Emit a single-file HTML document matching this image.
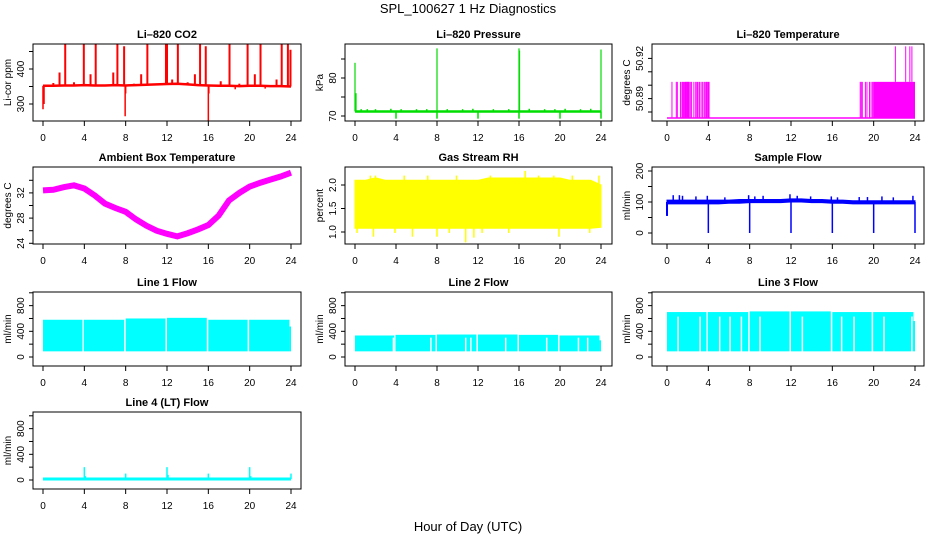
<!DOCTYPE html>
<html><head><meta charset="utf-8"><style>
html,body{margin:0;padding:0;background:#fff;}
svg{display:block;font-family:"Liberation Sans",sans-serif;}
</style></head><body>
<svg id="c" width="936" height="540" viewBox="0 0 936 540">
<text x="468" y="13" text-anchor="middle" font-size="13">SPL_100627  1 Hz Diagnostics</text>
<text x="468" y="531" text-anchor="middle" font-size="13">Hour of Day (UTC)</text>
</svg>
<script>
// ---------- data ----------
const xTicks=[0,4,8,12,16,20,24];
const hours=[0,1,2,3,4,5,6,7,8,9,10,11,12,13,14,15,16,17,18,19,20,21,22,23,24];
// CO2
const co2Base=[352,352,353,353,354,353,353,354,353,354,355,356,357,358,356,354,353,352,352,351,352,352,351,351,350];
const co2SpikeT=[2.15,3.95,5.1,7.2,7.85,10.1,11.9,12.0,13.05,15.2,15.75,18.05,19.8,21.05,23.1,23.7,23.95];
const co2SpikeV=[470,470,470,470,465,470,470,475,470,470,465,470,470,470,470,470,455];
const co2MedT=[1.6,4.6,6.8,9.5,12.5,14.7,17.2,20.5,22.6,1.0,3.0,8.8,14.0,19.0];
const co2MedV=[390,385,390,385,370,385,365,385,370,360,362,358,362,358];
const co2DipT=[0.0,0.1,7.95,8.0,16.0,16.05,18.6,21.5];
const co2DipV=[285,300,265,330,250,330,342,344];
// Pressure
const presBase=[71.2,71.2,71.2,71.2,71.2,71.2,71.2,71.2,71.2,71.2,71.2,71.2,71.2,71.2,71.2,71.2,71.2,71.2,71.2,71.2,71.2,71.2,71.2,71.2,71.2];
const presSpikeT=[0,0.1,8,16,16.05,24];
const presSpikeV=[84,76,87.8,87.8,87.2,87.5];
const presDipT=[4,8,12,16,20,24];
const presDipV=[69.3,69.3,69.3,69.3,69.3,69.3];
const presBumpT=[0.6,1.2,2.0,3.5,4.5,6.0,7.0,9.0,10.5,11.5,13.5,15.0,17.0,18.5,19.5,20.5,22.0,23.0];
const presBumpV=[71.8,71.8,71.8,71.9,71.8,71.8,71.8,71.8,71.8,71.9,71.8,71.8,71.9,71.8,71.8,71.9,71.8,71.9];
// Li-820 temperature
const tempLow=50.8755, tempHigh=50.9025;
const tempLineT=[0.48,0.9,1.0,1.3,1.45,1.55,1.65,1.75,1.82,1.88,1.95,2.0,2.07,2.13,2.25,2.38,2.6,2.78,2.9,3.0,3.15,3.3,3.45,3.6,3.7,3.82,3.9,18.7,18.8,18.9,19.2,19.35,19.6,19.75,19.9];
const tempBlockStart=[3.95,19.95];
const tempBlockEnd=[4.12,24.0];
const tempSpikeT=[22.1,23.1,23.5,23.7];
const tempSpikeV=[50.929,50.929,50.929,50.929];
// Ambient
const ambTemp=[32.4,32.5,32.9,33.2,32.7,31.6,30.3,29.6,29.0,27.8,26.8,26.0,25.5,25.1,25.6,26.2,26.9,28.4,30.8,32.0,33.0,33.6,34.1,34.6,35.2];
// RH
const rhHigh=[2.1,2.1,2.15,2.1,2.1,2.1,2.1,2.1,2.1,2.1,2.1,2.1,2.1,2.15,2.15,2.15,2.15,2.15,2.15,2.15,2.15,2.1,2.1,2.1,2.0];
const rhLow=[1.08,1.08,1.08,1.08,1.08,1.08,1.08,1.08,1.08,1.08,1.08,1.08,1.08,1.08,1.08,1.08,1.08,1.08,1.08,1.08,1.08,1.08,1.08,1.08,1.1];
const rhUpT=[1.5,2.0,4.8,7.1,9.9,13.2,16.6,17.9,19.4,21.2,23.8];
const rhUpV=[2.2,2.2,2.2,2.2,2.2,2.2,2.3,2.2,2.2,2.2,2.2];
const rhDnT=[0.2,1.8,3.9,5.6,8.0,9.2,10.8,11.6,12.4,15.0,19.9,22.9];
const rhDnV=[0.98,0.9,0.98,0.9,0.9,0.98,0.78,0.88,0.98,0.98,0.9,0.98];
// Sample flow
const sfHigh=[106,106,106,106,106,106,106,108,108,108,108,108,110,110,108,108,106,106,104,104,104,104,104,104,104];
const sfLow=[94,94,94,94,94,94,96,96,98,98,98,98,100,100,98,98,96,96,94,94,94,94,94,94,94];
const sfSpikeT=[0.6,1.2,1.5,2.8,3.9,5.6,7.9,8.5,9.3,11.9,12.6,13.9,15.9,16.5,18.6,19.4,20.8,21.9,23.8];
const sfSpikeV=[122,122,120,118,120,115,122,118,120,125,120,118,118,115,116,116,118,115,120];
const sfDropT=[4,8,12,16,20,24];
const sfStartV=55;
// Line flows
const segStart=[0,3.95,8.0,12.0,16.0,19.95];
const segEnd=[3.82,7.85,11.85,15.85,19.8,23.85];
const l1High=[580,580,600,610,580,580];
const l2High=[335,345,350,350,345,335];
const l3High=[700,700,710,710,700,700];
const lineLow=[88,88,88,88,88,88];
const l1Tail=475, l2Tail=260, l3Tail=560;
const l2GapT=[3.75,7.4,10.8,11.3,14.7,18.7,21.8,22.7];
const l3GapT=[1.07,3.2,5.1,6.1,7.2,9.0,13.1,16.9,18.1,21.0,23.7];
const l4Base=15;
const l4SpikeT=[4,4.1,8,12,12.1,16,20,20.1,24];
const l4SpikeV=[200,60,100,200,80,100,200,60,100];

// ---------- layout ----------
const NS="http://www.w3.org/2000/svg";
const svg=document.getElementById('c');
function el(tag,attrs,parent){const e=document.createElementNS(NS,tag);for(const k in attrs)e.setAttribute(k,attrs[k]);(parent||svg).appendChild(e);return e;}
const cols=[{l:33,r:301,x0:43,x1:291},{l:345,r:612,x0:355,x1:601},{l:652,r:924,x0:667,x1:915}];
const rows=[{t:44,b:121},{t:167,b:244},{t:292,b:366},{t:412,b:489}];
let clipId=0;
function panel(name,title,ytitle,ci,ri,v0,y0,k,ticks,labels,color){
  const c=cols[ci],r=rows[ri];
  const g=el('g',{});
  
  
  const X=h=>c.x0+(c.x1-c.x0)*h/24;
  const Y=v=>y0-(v-v0)*k;
  const id='cl'+(clipId++);
  const cp=el('clipPath',{id:id},g);el('rect',{x:c.l,y:r.t,width:c.r-c.l,height:r.b-r.t},cp);
  const plot=el('g',{'clip-path':'url(#'+id+')'},g);
  
  
  const t=el('text',{x:(c.l+c.r)/2,y:r.t-6,'text-anchor':'middle','font-size':'11','font-weight':'bold'},g);t.textContent=title;
  
  
  const box=el('rect',{x:c.l,y:r.t,width:c.r-c.l,height:r.b-r.t,fill:'none',stroke:'#000','stroke-width':1},g);
  
  
  const xa=el('g',{},g);
  
  
  el('line',{x1:X(0),x2:X(24),y1:r.b,y2:r.b,stroke:'#000'},xa);
  xTicks.forEach(h=>{el('line',{x1:X(h),x2:X(h),y1:r.b,y2:r.b+5,stroke:'#000'},xa);
    const tx=el('text',{x:X(h),y:r.b+20,'text-anchor':'middle','font-size':'10'},xa);tx.textContent=h;});
  const ya=el('g',{},g);
  
  
  el('line',{x1:c.l,x2:c.l,y1:Y(ticks[0]),y2:Y(ticks[ticks.length-1]),stroke:'#000'},ya);
  ticks.forEach((v,i)=>{el('line',{x1:c.l-4,x2:c.l,y1:Y(v),y2:Y(v),stroke:'#000'},ya);
    if(labels[i]){const tx=el('text',{x:c.l-9,y:Y(v),'text-anchor':'middle','font-size':'10',transform:'rotate(-90 '+(c.l-9)+' '+Y(v)+')'},ya);tx.textContent=labels[i];}});
  const yt=el('text',{x:c.l-22,y:(r.t+r.b)/2,'text-anchor':'middle','font-size':'10',transform:'rotate(-90 '+(c.l-22)+' '+((r.t+r.b)/2)+')'},g);yt.textContent=ytitle;
  
  
  return {X,Y,plot,color};
}
function vline(p,h,a,b,w){el('line',{x1:p.X(h),x2:p.X(h),y1:p.Y(a),y2:p.Y(b),stroke:p.color,'stroke-width':w||1},p.plot);}
function poly(p,vals,w){el('polyline',{points:vals.map((v,i)=>p.X(hours[i])+','+p.Y(v)).join(' '),fill:'none',stroke:p.color,'stroke-width':w},p.plot);}
function band(p,hi,lo){const pts=hi.map((v,i)=>p.X(hours[i])+','+p.Y(v)).concat(lo.map((v,i)=>[i,v]).reverse().map(a=>p.X(hours[a[0]])+','+p.Y(a[1])));
  el('polygon',{points:pts.join(' '),fill:p.color,stroke:p.color},p.plot);}

// CO2
let p=panel('co2','Li–820 CO2','Li-cor ppm',0,0,300,104,0.35,[300,350,400,450],['300','','400',''],'#ff0000');
poly(p,co2Base,2.5);
co2SpikeT.forEach((h,i)=>vline(p,h,co2Base[Math.round(h)],co2SpikeV[i],2));
co2MedT.forEach((h,i)=>vline(p,h,co2Base[Math.round(h)],co2MedV[i],2));
co2DipT.forEach((h,i)=>vline(p,h,co2Base[Math.round(h)],co2DipV[i],1.5));
// Pressure
p=panel('pressure','Li–820 Pressure','kPa',1,0,70,116,3.8,[70,75,80,85],['70','','80',''],'#00dd00');
poly(p,presBase,2.5);
presSpikeT.forEach((h,i)=>vline(p,h,71.2,presSpikeV[i],1.2));
presDipT.forEach((h,i)=>vline(p,h,71.2,presDipV[i],1.5));
presBumpT.forEach((h,i)=>vline(p,h,71.2,presBumpV[i],1.5));
// Li-820 temperature
p=panel('li820-temperature','Li–820 Temperature','degrees C',2,0,50.88,112,1340,[50.88,50.89,50.90,50.91,50.92],['','50.89','','','50.92'],'#ff00ff');
el('line',{x1:p.X(0),x2:p.X(24),y1:p.Y(tempLow),y2:p.Y(tempLow),stroke:p.color,'stroke-width':1.5},p.plot);
tempLineT.forEach(h=>vline(p,h,tempLow,tempHigh,1));
tempBlockStart.forEach((s,i)=>el('rect',{x:p.X(s),y:p.Y(tempHigh),width:p.X(tempBlockEnd[i])-p.X(s),height:p.Y(tempLow)-p.Y(tempHigh),fill:p.color},p.plot));
tempSpikeT.forEach((h,i)=>vline(p,h,tempHigh,tempSpikeV[i],1));
// Ambient
p=panel('ambient-temperature','Ambient Box Temperature','degrees C',0,1,24,243.3,6.3,[24,26,28,30,32,34],['24','','28','','32',''],'#ff00ff');
poly(p,ambTemp,6);
// RH
p=panel('gas-stream-rh','Gas Stream RH','percent',1,1,1,232,47,[1.0,1.5,2.0],['1.0','1.5','2.0'],'#ffff00');
band(p,rhHigh,rhLow);
rhUpT.forEach((h,i)=>vline(p,h,2.0,rhUpV[i],1.5));
rhDnT.forEach((h,i)=>vline(p,h,1.2,rhDnV[i],1.5));
// Sample flow
p=panel('sample-flow','Sample Flow','ml/min',2,1,0,233,0.31,[0,50,100,150,200],['0','','100','','200'],'#0000ff');
band(p,sfHigh,sfLow);
sfSpikeT.forEach((h,i)=>vline(p,h,100,sfSpikeV[i],1.5));
sfDropT.forEach(h=>vline(p,h,100,0,1.5));
vline(p,0,100,sfStartV,2);
// Line flows
function lineFlow(name,title,ci,ri,y0,hi,tail,gaps){
  const q=panel(name,title,'ml/min',ci,ri,0,y0,0.0642,[0,200,400,600,800,1000],['0','','400','','800',''],'#00ffff');
  segStart.forEach((s,i)=>el('rect',{x:q.X(s),y:q.Y(hi[i]),width:q.X(segEnd[i])-q.X(s),height:q.Y(lineLow[i])-q.Y(hi[i]),fill:q.color},q.plot));
  el('rect',{x:q.X(23.85),y:q.Y(tail),width:q.X(24)-q.X(23.85),height:q.Y(lineLow[0])-q.Y(tail),fill:q.color},q.plot);
  gaps.forEach(h=>el('line',{x1:q.X(h),x2:q.X(h),y1:q.Y(hi[0]*0.9),y2:q.Y(lineLow[0])+1,stroke:'#fff','stroke-width':1.5},q.plot));
}
lineFlow('line1-flow','Line 1 Flow',0,2,357,l1High,l1Tail,[]);
lineFlow('line2-flow','Line 2 Flow',1,2,357,l2High,l2Tail,l2GapT);
lineFlow('line3-flow','Line 3 Flow',2,2,357,l3High,l3Tail,l3GapT);
p=panel('line4-flow','Line 4 (LT) Flow','ml/min',0,3,0,480,0.0642,[0,200,400,600,800,1000],['0','','400','','800',''],'#00ffff');
el('line',{x1:p.X(0),x2:p.X(24),y1:p.Y(l4Base),y2:p.Y(l4Base),stroke:p.color,'stroke-width':3},p.plot);
l4SpikeT.forEach((h,i)=>vline(p,h,l4Base,l4SpikeV[i],1.5));
</script>
</body></html>
